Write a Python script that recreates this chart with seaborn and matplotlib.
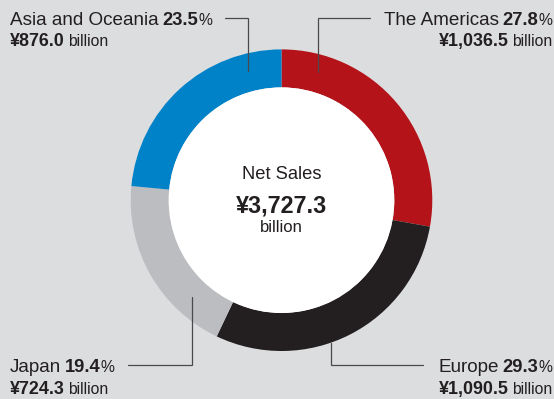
import matplotlib
matplotlib.use("Agg")
import matplotlib.pyplot as plt
from matplotlib.patches import Circle
import seaborn as sns

# Net sales by region (billion yen), clockwise from 12 o'clock
regions = ["The Americas", "Europe", "Japan", "Asia and Oceania"]
sales = [1036.5, 1090.5, 724.3, 876.0]
shares = ["27.8", "29.3", "19.4", "23.5"]
sales_labels = ["¥1,036.5", "¥1,090.5", "¥724.3", "¥876.0"]
total_label = "¥3,727.3"
colors = ["#b41319", "#231f20", "#bcbdc0", "#0082c8"]

BG = "#dcdddf"
TXT = "#231f20"
LINE = "#4a4a4a"
W, H = 554, 399

sns.set_theme(style="white")
plt.rcParams["font.family"] = ["Liberation Sans", "DejaVu Sans"]

fig = plt.figure(figsize=(W / 100, H / 100), dpi=100)
fig.patch.set_facecolor(BG)
ax = fig.add_axes([0, 0, 1, 1])
ax.set_facecolor(BG)


def py(y):
    # pixel rows are counted from the top
    return H - y


cx, cy = 281.5, 200.2
r_out, ring = 150.8, 38.0

ax.pie(sales, colors=colors, startangle=90, counterclock=False,
       radius=r_out, center=(cx, py(cy)),
       wedgeprops=dict(width=ring, linewidth=0))
ax.add_patch(Circle((cx, py(cy)), r_out - ring, facecolor="white",
                    edgecolor="none", zorder=3))

ax.set_xlim(0, W)
ax.set_ylim(0, H)
ax.set_aspect("auto")
ax.axis("off")

renderer = fig.canvas.get_renderer()


def runs(x, y, parts, ha="left"):
    """Draw a line made of differently styled pieces on one baseline."""
    texts, gaps = [], []
    for s, weight, size, gap in parts:
        t = ax.text(0, py(y), s, fontsize=size, fontweight=weight,
                    color=TXT, va="baseline", ha="left", zorder=5)
        texts.append(t)
        gaps.append(gap)
    widths = [t.get_window_extent(renderer).width for t in texts]
    total = sum(widths) + sum(gaps)
    pos = x if ha == "left" else x - total
    for t, w, g in zip(texts, widths, gaps):
        pos += g
        t.set_x(pos)
        pos += w


NAME_FS, PCT_FS, SIGN_FS, YEN_FS, BIL_FS = 13.6, 13.2, 11.3, 12.9, 11.3

label_spots = {
    "Asia and Oceania": (10, 25, 46, "left"),
    "The Americas": (552.5, 25, 46, "right"),
    "Japan": (10, 372, 394, "left"),
    "Europe": (552.5, 372, 394, "right"),
}

for name, share, amount in zip(regions, shares, sales_labels):
    x, y1, y2, ha = label_spots[name]
    runs(x, y1, [(name, "normal", NAME_FS, 0.0),
                 (share, "bold", PCT_FS, 3.6),
                 ("%", "normal", SIGN_FS, 0.2)], ha)
    runs(x, y2, [(amount, "bold", YEN_FS, 0.0),
                 ("billion", "normal", BIL_FS, 3.2)], ha)

# leader lines from the labels into the ring
leaders = [
    [(225, 17.7), (248, 17.7), (248, 71)],
    [(370, 17.7), (318, 17.7), (318, 71.7)],
    [(128, 365), (192.3, 365), (192.3, 296.7)],
    [(423, 365), (330.7, 365), (330.7, 343.3)],
]
for pts in leaders:
    xs = [p[0] for p in pts]
    ys = [py(p[1]) for p in pts]
    ax.plot(xs, ys, color=LINE, lw=0.9, solid_joinstyle="miter", zorder=4)

# centre total
ax.text(cx, py(179), "Net Sales", ha="center", va="baseline",
        fontsize=13.2, color=TXT, zorder=5)
ax.text(cx, py(213), total_label, ha="center", va="baseline",
        fontsize=16.8, fontweight="bold", color=TXT, zorder=5)
ax.text(cx, py(232), "billion", ha="center", va="baseline",
        fontsize=12, color=TXT, zorder=5)

fig.savefig("out.png", dpi=100, facecolor=BG)
